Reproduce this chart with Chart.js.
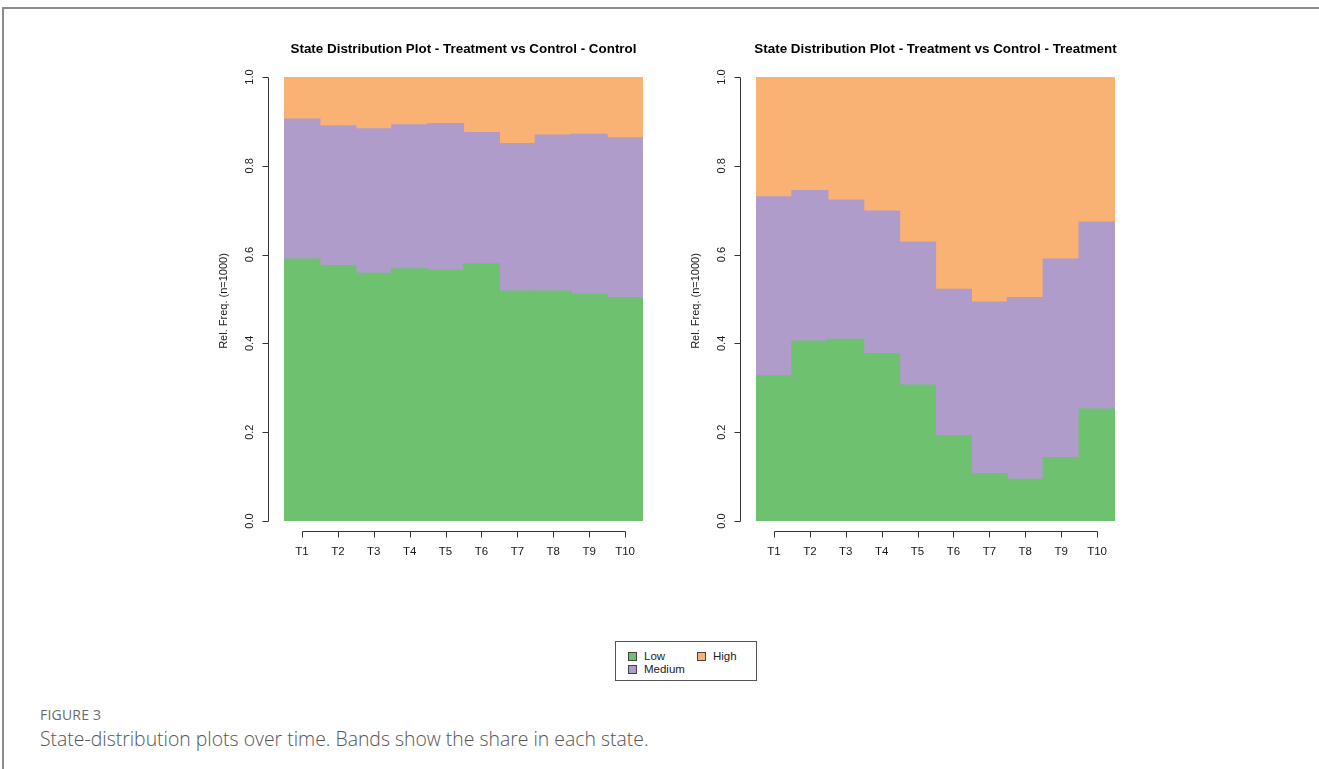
<!DOCTYPE html>
<html>
<head>
<meta charset="utf-8">
<script src="https://cdn.jsdelivr.net/npm/chart.js@4.4.1/dist/chart.umd.min.js"></script>
<style>
  html, body { margin: 0; padding: 0; background: #fff; }
  body { width: 1319px; height: 769px; position: relative; overflow: hidden; font-family: "Liberation Sans", Arial, sans-serif; }
  .frame { position: absolute; left: 2px; top: 7px; right: 0; bottom: 0; border-top: 2px solid #8c8c8c; border-left: 2px solid #8c8c8c; }
  .panel { position: absolute; top: 30px; }
  .legend { position: absolute; left: 615px; top: 641px; width: 140px; height: 38px; border: 1px solid #555; background: #fff; }
  .legend .item { position: absolute; font-size: 11.5px; color: #222; line-height: 12px; }
  .legend .sw { position: absolute; width: 7px; height: 7px; border: 1px solid #444; }
  .caption-label { position: absolute; left: 40px; top: 705px; font-family: "Open Sans", sans-serif; font-size: 14px; color: #6b6b6b; letter-spacing: 0.2px; }
  .caption-text { position: absolute; left: 40px; top: 725px; font-family: "Open Sans", sans-serif; font-weight: 300; font-size: 19.4px; color: #555; }
</style>
</head>
<body>
<div class="frame"></div>
<div class="panel" style="left:190px"><canvas id="controlChart" width="470" height="545"></canvas></div>
<div class="panel" style="left:660px"><canvas id="treatmentChart" width="470" height="545"></canvas></div>
<div class="legend" id="legend"></div>
<div class="caption-label">FIGURE 3</div>
<div class="caption-text">State-distribution plots over time. Bands show the share in each state.</div>
<script>
// Time points and axis ticks
const timeLabels = ['T1', 'T2', 'T3', 'T4', 'T5', 'T6', 'T7', 'T8', 'T9', 'T10'];
const yTicks = [0, 0.2, 0.4, 0.6, 0.8, 1.0];

// State shares per time point, Control group
const controlLow    = [0.590, 0.575, 0.558, 0.568, 0.565, 0.579, 0.518, 0.518, 0.511, 0.503];
const controlMedium = [0.315, 0.315, 0.325, 0.324, 0.330, 0.296, 0.332, 0.351, 0.360, 0.360];
const controlHigh   = [0.095, 0.110, 0.117, 0.108, 0.105, 0.125, 0.150, 0.131, 0.129, 0.137];

// State shares per time point, Treatment group
const treatmentLow    = [0.327, 0.405, 0.409, 0.377, 0.306, 0.192, 0.107, 0.094, 0.143, 0.252];
const treatmentMedium = [0.403, 0.339, 0.314, 0.321, 0.322, 0.330, 0.386, 0.409, 0.447, 0.421];
const treatmentHigh   = [0.270, 0.256, 0.277, 0.302, 0.372, 0.478, 0.507, 0.497, 0.410, 0.327];

const stateNames = ['Low', 'Medium', 'High'];
const stateColors = ['#6EC16E', '#B09CCB', '#F9B274'];

const FONT = '"Liberation Sans", Arial, Helvetica, sans-serif';

// Base-graphics style axes drawn from the chart's own scales
const rAxesPlugin = {
  id: 'rAxes',
  afterDraw(chart, args, opts) {
    const ctx = chart.ctx;
    const xs = chart.scales.x;
    const ys = chart.scales.y;
    const area = chart.chartArea;
    ctx.save();
    ctx.strokeStyle = '#333';
    ctx.lineWidth = 1;
    ctx.fillStyle = '#1a1a1a';

    // y axis
    const ax = area.left - 15.5;
    const yTop = ys.getPixelForValue(yTicks[yTicks.length - 1]);
    const yBot = ys.getPixelForValue(yTicks[0]);
    ctx.beginPath();
    ctx.moveTo(ax, Math.round(yTop) + 0.5);
    ctx.lineTo(ax, Math.round(yBot) + 0.5);
    yTicks.forEach(v => {
      const py = Math.round(ys.getPixelForValue(v)) + 0.5;
      ctx.moveTo(ax, py);
      ctx.lineTo(ax - 6, py);
    });
    ctx.stroke();
    ctx.font = '11px ' + FONT;
    ctx.textAlign = 'center';
    ctx.textBaseline = 'middle';
    yTicks.forEach(v => {
      const py = ys.getPixelForValue(v);
      ctx.save();
      ctx.translate(area.left - 34, py);
      ctx.rotate(-Math.PI / 2);
      ctx.fillText(v.toFixed(1), 0, 0);
      ctx.restore();
    });
    ctx.save();
    ctx.translate(area.left - 60, (area.top + area.bottom) / 2 + 2);
    ctx.rotate(-Math.PI / 2);
    ctx.fillText('Rel. Freq. (n=1000)', 0, 0);
    ctx.restore();

    // x axis
    const ay = area.bottom + 10.5;
    const x0 = xs.getPixelForValue(0);
    const x1 = xs.getPixelForValue(timeLabels.length - 1);
    ctx.beginPath();
    ctx.moveTo(Math.round(x0) + 0.5, ay);
    ctx.lineTo(Math.round(x1) + 0.5, ay);
    timeLabels.forEach((t, i) => {
      const px = Math.round(xs.getPixelForValue(i)) + 0.5;
      ctx.moveTo(px, ay);
      ctx.lineTo(px, ay + 6);
    });
    ctx.stroke();
    ctx.font = '11.5px ' + FONT;
    timeLabels.forEach((t, i) => {
      ctx.fillText(t, xs.getPixelForValue(i), area.bottom + 31);
    });

    // main title
    ctx.fillStyle = '#000';
    ctx.font = 'bold 13.4px ' + FONT;
    ctx.fillText(opts.title, (area.left + area.right) / 2, area.top - 28);
    ctx.restore();
  }
};

function buildChart(id, title, low, medium, high, padLeft, padRight) {
  const series = [low, medium, high];
  return new Chart(document.getElementById(id), {
    type: 'bar',
    data: {
      labels: timeLabels,
      datasets: series.map((vals, k) => ({
        label: stateNames[k],
        data: vals,
        backgroundColor: stateColors[k],
        borderWidth: 0,
        inflateAmount: 0.6,
        barPercentage: 1.0,
        categoryPercentage: 1.0
      }))
    },
    options: {
      responsive: false,
      animation: false,
      events: [],
      layout: { padding: { left: padLeft, right: padRight, top: 47, bottom: 54 } },
      scales: {
        x: { stacked: true, display: false },
        y: { stacked: true, display: false, min: 0, max: 1 }
      },
      plugins: {
        legend: { display: false },
        tooltip: { enabled: false },
        rAxes: { title: title }
      }
    },
    plugins: [rAxesPlugin]
  });
}

buildChart('controlChart', 'State Distribution Plot - Treatment vs Control - Control',
  controlLow, controlMedium, controlHigh, 94, 17);
buildChart('treatmentChart', 'State Distribution Plot - Treatment vs Control - Treatment',
  treatmentLow, treatmentMedium, treatmentHigh, 96, 15);

// Shared legend below both panels
const legendPos = [[12, 8], [12, 21], [81, 8]];
const legendEl = document.getElementById('legend');
stateNames.forEach((name, k) => {
  const [lx, ly] = legendPos[k];
  const sw = document.createElement('div');
  sw.className = 'sw';
  sw.style.left = lx + 'px';
  sw.style.top = (ly + 2) + 'px';
  sw.style.background = stateColors[k];
  legendEl.appendChild(sw);
  const tx = document.createElement('div');
  tx.className = 'item';
  tx.style.left = (lx + 16) + 'px';
  tx.style.top = ly + 'px';
  tx.textContent = name;
  legendEl.appendChild(tx);
});
</script>
</body>
</html>
